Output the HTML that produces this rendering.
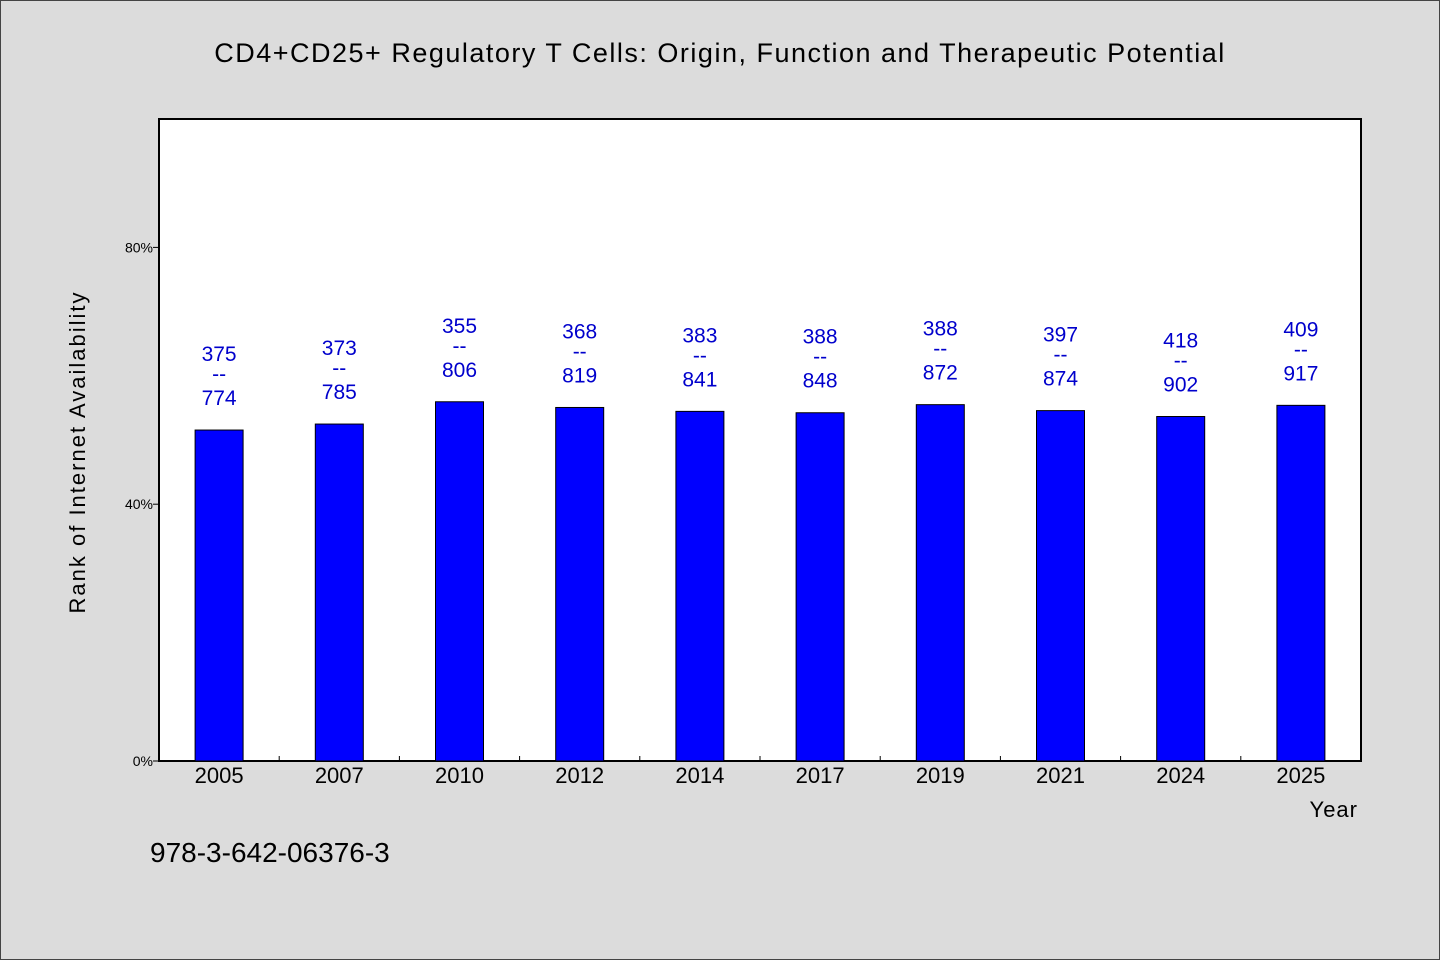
<!DOCTYPE html>
<html><head><meta charset="utf-8"><style>
html,body{margin:0;padding:0;background:#dcdcdc;}
svg{display:block;}
text{font-family:"WenQuanYi Zen Hei","Liberation Sans",sans-serif;}
</style></head><body>
<svg id="chart" width="1440" height="960" xmlns="http://www.w3.org/2000/svg">
<rect x="0.5" y="0.5" width="1439" height="959" fill="#dcdcdc" stroke="#444"/>
<text x="720" y="62" text-anchor="middle" font-size="27" letter-spacing="1.5" fill="#000">CD4+CD25+ Regulatory T Cells: Origin, Function and Therapeutic Potential</text>
<rect x="159" y="119" width="1202" height="642" fill="#fff" stroke="#000" stroke-width="2"/>
<g id="bars"></g>
<g id="axes"></g>
<text x="85" y="452" transform="rotate(-90 85 452)" text-anchor="middle" font-size="22" letter-spacing="2" fill="#000">Rank of Internet Availability</text>
<text x="1358" y="817" text-anchor="end" font-size="22" letter-spacing="1" fill="#000">Year</text>
<text x="150" y="862" font-size="28" fill="#000">978-3-642-06376-3</text>
</svg>
<script>
const years=["2005","2007","2010","2012","2014","2017","2019","2021","2024","2025"];
const ranks=[375,373,355,368,383,388,388,397,418,409];
const totals=[774,785,806,819,841,848,872,874,902,917];
const yTicks=[0,40,80];
const NS="http://www.w3.org/2000/svg";
const L=159,R=1361,T=119,B=761;
const band=(R-L)/years.length;
const xc=i=>L+band*(i+0.5);
const y=v=>B-(v/100)*(B-T);
const gb=document.getElementById('bars'),ga=document.getElementById('axes');
function mk(tag,at,parent){const e=document.createElementNS(NS,tag);for(const k in at)e.setAttribute(k,at[k]);parent.appendChild(e);return e;}
years.forEach((yr,i)=>{
  const v=(1-ranks[i]/totals[i])*100;
  const top=y(v);
  const r=mk('rect',{x:xc(i)-24,y:top,width:48,height:B-top,fill:'#0000ff',stroke:'#000','stroke-width':1},gb);
  
  
  const t1=mk('text',{x:xc(i),y:top-69,'text-anchor':'middle','font-size':21,fill:'#0000cc'},gb);
  t1.textContent=ranks[i];
  
  
  const t2=mk('text',{x:xc(i),y:top-49,'text-anchor':'middle','font-size':21,fill:'#0000cc'},gb);
  t2.textContent='--';
  
  
  const t3=mk('text',{x:xc(i),y:top-25,'text-anchor':'middle','font-size':21,fill:'#0000cc'},gb);
  t3.textContent=totals[i];
  
  
  const xl=mk('text',{x:xc(i),y:783,'text-anchor':'middle','font-size':22,fill:'#000'},ga);
  xl.textContent=yr;
  
  
  if(i>0){const tk=mk('line',{x1:L+band*i,x2:L+band*i,y1:B,y2:B-5,stroke:'#000'},ga);
  
  }
});
yTicks.forEach(v=>{
  const tk=mk('line',{x1:L-6,x2:L,y1:y(v),y2:y(v),stroke:'#000'},ga);
  
  
  const tl=mk('text',{x:L-6,y:y(v)+5,'text-anchor':'end','font-size':14,fill:'#000'},ga);
  tl.textContent=v+'%';
  
  
});
</script>
</body></html>
